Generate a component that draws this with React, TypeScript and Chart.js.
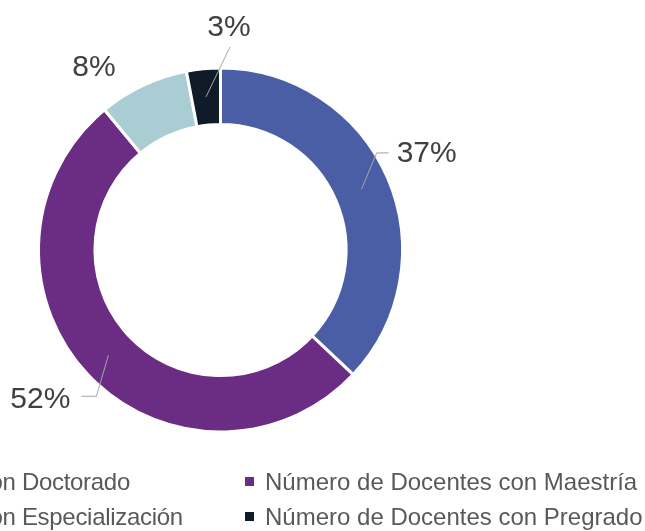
import React, { useEffect, useRef } from "react";
import { Chart, registerables } from "chart.js";

Chart.register(...registerables);

const categories = [
  "Número de Docentes con Doctorado",
  "Número de Docentes con Maestría",
  "Número de Docentes con Especialización",
  "Número de Docentes con Pregrado",
];
const values = [37, 52, 8, 3];
const percentLabels = ["37%", "52%", "8%", "3%"];
const colors = ["#4a5ea5", "#6b2c84", "#a9cdd2", "#0f1b29"];

// label / leader-line styling (offsets in px, relative to the arc anchor)
const leaderStyles = [
  { line: true, elbow: [15, -36], tail: 12, label: [8, 1], align: "left" },
  { line: true, elbow: [-12, 41], tail: -15, label: [-11, 3], align: "right" },
  { line: false, elbow: [0, 0], tail: 0, label: [-61, -43], align: "center" },
  { line: true, elbow: [24, -50], tail: 0, label: [-1, -19], align: "center" },
];

const FONT = "'Liberation Sans', Arial, sans-serif";

const labelPlugin = {
  id: "leaderLabels",
  afterDatasetsDraw(chart: any) {
    const ctx = chart.ctx;
    const meta = chart.getDatasetMeta(0);
    ctx.save();
    meta.data.forEach((arc: any, i: number) => {
      const p = arc.getProps(["x", "y", "startAngle", "endAngle", "innerRadius", "outerRadius"], true);
      const a = (p.startAngle + p.endAngle) / 2;
      const r = (p.innerRadius + p.outerRadius) / 2;
      const ax = p.x + Math.cos(a) * r;
      const ay = p.y + Math.sin(a) * r;
      const s = leaderStyles[i];
      const ex = ax + s.elbow[0];
      const ey = ay + s.elbow[1];
      const tx = ex + s.tail;
      const ty = ey;
      let lx: number, ly: number;
      if (s.line) {
        ctx.strokeStyle = "#a6a6a6";
        ctx.lineWidth = 1;
        ctx.beginPath();
        ctx.moveTo(ax, ay);
        ctx.lineTo(ex, ey);
        if (s.tail !== 0) ctx.lineTo(tx, ty);
        ctx.stroke();
        lx = tx + s.label[0];
        ly = ty + s.label[1];
      } else {
        lx = ax + s.label[0];
        ly = ay + s.label[1];
      }
      ctx.fillStyle = "#404040";
      ctx.font = `30px ${FONT}`;
      ctx.textAlign = s.align as CanvasTextAlign;
      ctx.textBaseline = "middle";
      ctx.fillText(percentLabels[i], lx, ly);
    });
    ctx.restore();
  },
};

export default function App() {
  const ref = useRef<HTMLCanvasElement | null>(null);

  useEffect(() => {
    if (!ref.current) return;
    const chart = new Chart(ref.current, {
      type: "doughnut",
      data: {
        labels: categories,
        datasets: [
          {
            data: values,
            backgroundColor: colors,
            borderColor: "#ffffff",
            borderWidth: 3,
          },
        ],
      },
      options: {
        responsive: false,
        animation: false,
        radius: 182,
        cutout: "69%",
        layout: { padding: { left: 38, top: 68, right: 242, bottom: 99 } },
        plugins: {
          legend: { display: false },
          tooltip: { enabled: false },
        },
      },
      plugins: [labelPlugin],
    });
    return () => chart.destroy();
  }, []);

  const rows = [
    [0, 1],
    [2, 3],
  ];

  return (
    <div
      style={{
        position: "fixed",
        left: 0,
        top: 0,
        width: 645,
        height: 531,
        overflow: "hidden",
        background: "#ffffff",
      }}
    >
      <canvas ref={ref} width={645} height={531} style={{ position: "absolute", left: 0, top: 0 }} />
      <div
        style={{
          position: "absolute",
          left: -270,
          top: 464,
          fontFamily: FONT,
          fontSize: 24,
          color: "#595959",
          whiteSpace: "nowrap",
        }}
      >
        {rows.map((row, ri) => (
          <div key={ri} style={{ display: "flex", height: 35, alignItems: "center" }}>
            {row.map((ci, k) => (
              <div
                key={ci}
                style={{
                  width: k === 0 ? 515 : 400,
                  display: "flex",
                  alignItems: "center",
                  letterSpacing: k === 0 ? -0.3 : 0,
                }}
              >
                <span
                  style={{
                    display: "inline-block",
                    width: 9,
                    height: 9,
                    background: colors[ci],
                    marginRight: 11,
                  }}
                />
                <span>{categories[ci]}</span>
              </div>
            ))}
          </div>
        ))}
      </div>
    </div>
  );
}
